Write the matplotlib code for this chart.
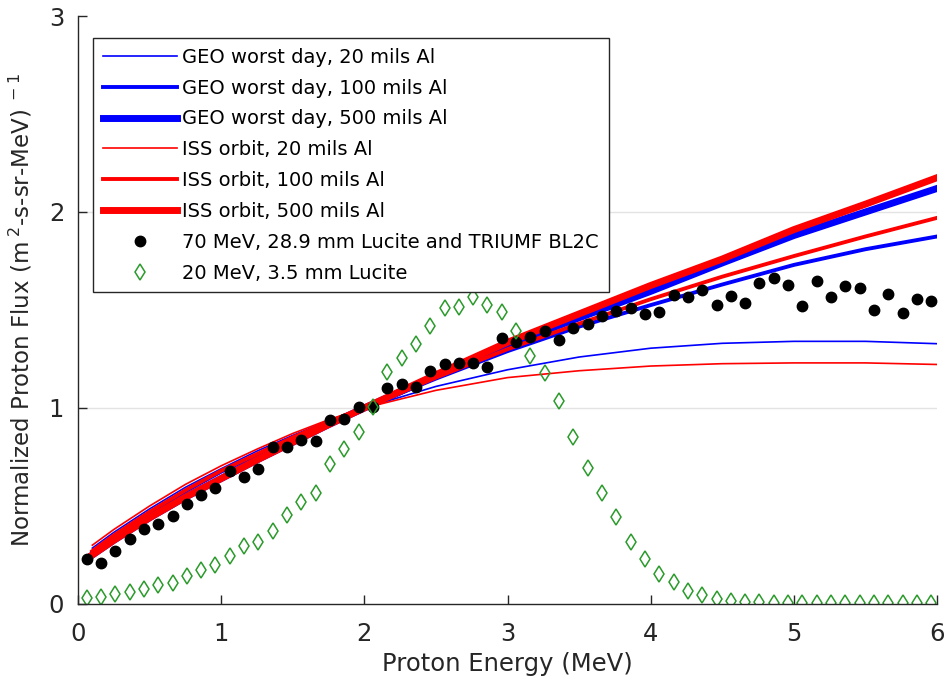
import numpy as np
import matplotlib
matplotlib.use('Agg')
import matplotlib.pyplot as plt

plt.rcParams['font.family'] = ['DejaVu Sans']
plt.rcParams['mathtext.default'] = 'regular'

# model curves, normalized at 2 MeV
x_model = [0.1, 0.25, 0.5, 0.75, 1.0, 1.25, 1.5, 1.75, 2.0, 2.5, 3.0, 3.5, 4.0, 4.5, 5.0, 5.5, 6.0]
geo_20 = [0.285, 0.365, 0.485, 0.595, 0.69, 0.78, 0.86, 0.935, 1.0, 1.11, 1.195, 1.26, 1.305, 1.33, 1.34, 1.34, 1.328]
geo_100 = [0.265, 0.345, 0.465, 0.575, 0.675, 0.76, 0.845, 0.925, 1.0, 1.15, 1.29, 1.415, 1.525, 1.63, 1.73, 1.81, 1.875]
geo_500 = [0.25, 0.325, 0.44, 0.545, 0.64, 0.735, 0.825, 0.915, 1.0, 1.165, 1.32, 1.46, 1.595, 1.74, 1.88, 2.0, 2.12]
iss_20 = [0.30, 0.38, 0.50, 0.61, 0.705, 0.79, 0.87, 0.94, 1.0, 1.09, 1.155, 1.19, 1.214, 1.226, 1.23, 1.23, 1.222]
iss_100 = [0.27, 0.35, 0.47, 0.58, 0.68, 0.765, 0.85, 0.93, 1.0, 1.155, 1.30, 1.43, 1.555, 1.67, 1.775, 1.875, 1.97]
iss_500 = [0.25, 0.325, 0.44, 0.545, 0.64, 0.735, 0.825, 0.915, 1.0, 1.17, 1.335, 1.48, 1.625, 1.76, 1.91, 2.04, 2.175]

# measured spectra
x_meas = [0.06, 0.16, 0.26, 0.36, 0.46, 0.56, 0.66, 0.76, 0.86, 0.96,
          1.06, 1.16, 1.26, 1.36, 1.46, 1.56, 1.66, 1.76, 1.86, 1.96,
          2.06, 2.16, 2.26, 2.36, 2.46, 2.56, 2.66, 2.76, 2.86, 2.96,
          3.06, 3.16, 3.26, 3.36, 3.46, 3.56, 3.66, 3.76, 3.86, 3.96,
          4.06, 4.16, 4.26, 4.36, 4.46, 4.56, 4.66, 4.76, 4.86, 4.96,
          5.06, 5.16, 5.26, 5.36, 5.46, 5.56, 5.66, 5.76, 5.86, 5.96]
triumf_70 = [0.23, 0.21, 0.27, 0.33, 0.385, 0.41, 0.45, 0.51, 0.555, 0.59,
             0.68, 0.65, 0.69, 0.80, 0.80, 0.835, 0.83, 0.94, 0.945, 1.005,
             1.005, 1.10, 1.12, 1.105, 1.19, 1.225, 1.23, 1.23, 1.21, 1.355,
             1.335, 1.36, 1.395, 1.345, 1.41, 1.43, 1.47, 1.495, 1.51, 1.48,
             1.49, 1.575, 1.565, 1.60, 1.525, 1.57, 1.535, 1.64, 1.665, 1.63,
             1.52, 1.65, 1.565, 1.62, 1.61, 1.50, 1.58, 1.485, 1.555, 1.545]
lucite_20 = [0.029, 0.037, 0.049, 0.061, 0.075, 0.095, 0.109, 0.141, 0.175, 0.20,
             0.246, 0.296, 0.315, 0.372, 0.452, 0.519, 0.568, 0.716, 0.789, 0.876,
             1.003, 1.185, 1.253, 1.327, 1.417, 1.508, 1.517, 1.565, 1.527, 1.49,
             1.394, 1.267, 1.177, 1.036, 0.854, 0.692, 0.565, 0.442, 0.316, 0.228,
             0.151, 0.111, 0.068, 0.044, 0.027, 0.015, 0.01, 0.008, 0.007, 0.006,
             0.006, 0.005, 0.005, 0.005, 0.005, 0.005, 0.005, 0.005, 0.005, 0.005]

fig = plt.figure(figsize=(9.48, 6.84), dpi=100)
ax = fig.add_axes([0.0823, 0.117, 0.9061, 0.8596])

ax.plot(x_model, geo_20, color='blue', lw=1.2, label='GEO worst day, 20 mils Al')
ax.plot(x_model, geo_100, color='blue', lw=2.8, label='GEO worst day, 100 mils Al')
ax.plot(x_model, geo_500, color='blue', lw=5.0, label='GEO worst day, 500 mils Al')
ax.plot(x_model, iss_20, color='red', lw=1.2, label='ISS orbit, 20 mils Al')
ax.plot(x_model, iss_100, color='red', lw=2.8, label='ISS orbit, 100 mils Al')
ax.plot(x_model, iss_500, color='red', lw=5.0, label='ISS orbit, 500 mils Al')
ax.plot(x_meas, triumf_70, 'o', color='black', ms=7.5, label='70 MeV, 28.9 mm Lucite and TRIUMF BL2C')
ax.plot(x_meas, lucite_20, 'd', color='#2a9a2a', mfc='none', ms=8, mew=1.1, label='20 MeV, 3.5 mm Lucite')

ax.set_xlim(0, 6)
ax.set_ylim(0, 3)
ax.set_xticks([0, 1, 2, 3, 4, 5, 6])
ax.set_yticks([0, 1, 2, 3])

ax.yaxis.grid(True, color='#e3e3e3', lw=1)
ax.set_axisbelow(True)
gl = ax.get_ygridlines()
gl[0].set_visible(False)
gl[-1].set_visible(False)

for s in ['top', 'right']:
    ax.spines[s].set_visible(False)
for s in ['left', 'bottom']:
    ax.spines[s].set_color('#262626')
    ax.spines[s].set_linewidth(1.0)
ax.tick_params(direction='in', length=6.5, width=1.0, color='#262626',
               labelsize=17.5, labelcolor='#262626')
ax.tick_params(axis='x', pad=13)
ax.tick_params(axis='y', pad=10)

ax.set_xlabel('Proton Energy (MeV)', fontsize=17.5, color='#262626', labelpad=4)
ax.set_ylabel(r'Normalized Proton Flux (m$^{\ 2}$-s-sr-MeV)$^{\ -1}$', fontsize=16.5,
              color='#262626', labelpad=10)

leg = ax.legend(loc='upper left', bbox_to_anchor=(0.0175, 0.9626), borderaxespad=0,
                fontsize=14, fancybox=False, edgecolor='#262626', framealpha=1,
                handlelength=3.8, handletextpad=0.3, labelspacing=0.61, borderpad=0.5)
leg.get_frame().set_linewidth(1.0)

fig.savefig('out.png', dpi=100)
